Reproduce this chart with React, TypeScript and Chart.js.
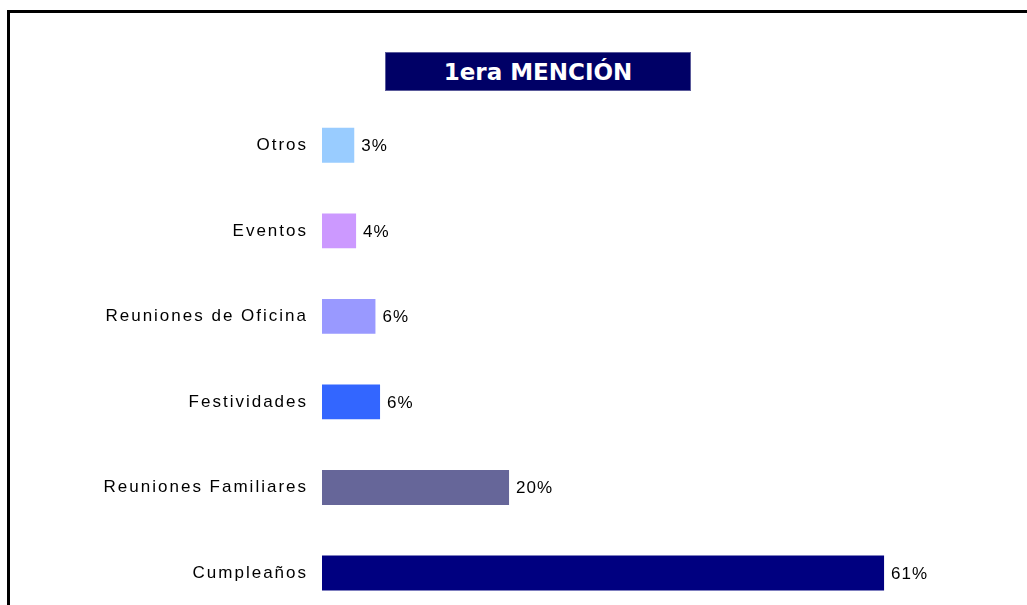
import React, { useEffect, useRef } from "react";
import { Chart, registerables } from "chart.js";

Chart.register(...registerables);

const categories = [
  "Otros",
  "Eventos",
  "Reuniones de Oficina",
  "Festividades",
  "Reuniones Familiares",
  "Cumpleaños",
];
const values = [3.5, 3.7, 5.8, 6.3, 20.3, 61.0];
const valueLabels = ["3%", "4%", "6%", "6%", "20%", "61%"];
const barColors = ["#99CCFF", "#CC99FF", "#9999FF", "#3366FF", "#666699", "#000080"];
const titleText = "1era MENCIÓN";

const FONT_FAMILY = '"Liberation Sans", Arial, sans-serif';

const spacingPlugin = {
  id: "letterSpacing",
  beforeDraw(chart: any) {
    (chart.ctx as any).letterSpacing = "2px";
  },
};

const valueLabelPlugin = {
  id: "valueLabels",
  afterDatasetsDraw(chart: any) {
    const ctx = chart.ctx;
    const meta = chart.getDatasetMeta(0);
    ctx.save();
    (ctx as any).letterSpacing = "1px";
    ctx.font = `17px ${FONT_FAMILY}`;
    ctx.fillStyle = "#000000";
    ctx.textAlign = "left";
    ctx.textBaseline = "middle";
    meta.data.forEach((bar: any, i: number) => {
      ctx.fillText(valueLabels[i], bar.x + 7, bar.y + 1);
    });
    ctx.restore();
  },
};

export default function App() {
  const canvasRef = useRef<HTMLCanvasElement | null>(null);

  useEffect(() => {
    if (!canvasRef.current) return;
    const chart = new Chart(canvasRef.current, {
      type: "bar",
      data: {
        labels: categories,
        datasets: [
          {
            data: values,
            backgroundColor: barColors,
            borderWidth: 0,
            barPercentage: 0.407,
            categoryPercentage: 1,
          },
        ],
      },
      options: {
        indexAxis: "y",
        responsive: false,
        animation: false,
        devicePixelRatio: 1,
        layout: { padding: { top: 102.5, bottom: 20, left: 0, right: 60 } },
        plugins: {
          legend: { display: false },
          title: { display: false },
          tooltip: { enabled: false },
        },
        scales: {
          x: { display: false, min: 0, max: 70 },
          y: {
            grid: { display: false, drawTicks: false },
            border: { display: false },
            ticks: {
              color: "#000000",
              padding: 14,
              font: { family: FONT_FAMILY, size: 17 },
            },
            afterFit(scale: any) {
              scale.width = 322;
            },
          },
        },
      },
      plugins: [spacingPlugin, valueLabelPlugin],
    } as any);
    return () => chart.destroy();
  }, []);

  return (
    <div
      style={{
        position: "fixed",
        left: 0,
        top: 0,
        width: 1027,
        height: 605,
        overflow: "hidden",
        background: "#ffffff",
      }}
    >
      <div
        style={{
          position: "absolute",
          left: 7,
          top: 10,
          width: 1030,
          height: 610,
          borderLeft: "3px solid #000",
          borderTop: "3px solid #000",
          boxSizing: "border-box",
        }}
      />
      <canvas
        ref={canvasRef}
        width={1027}
        height={640}
        style={{ position: "absolute", left: 0, top: 0, width: 1027, height: 640 }}
      />
      <div
        style={{
          position: "absolute",
          left: 385,
          top: 52,
          width: 306,
          height: 39,
          background: "#000066",
          color: "#ffffff",
          display: "flex",
          alignItems: "center",
          justifyContent: "center",
          fontFamily: '"DejaVu Sans", Verdana, sans-serif',
          fontWeight: "bold",
          fontSize: 23,
          boxSizing: "border-box",
          border: "1px solid #5a5a9a",
        }}
      >
        {titleText}
      </div>
    </div>
  );
}
